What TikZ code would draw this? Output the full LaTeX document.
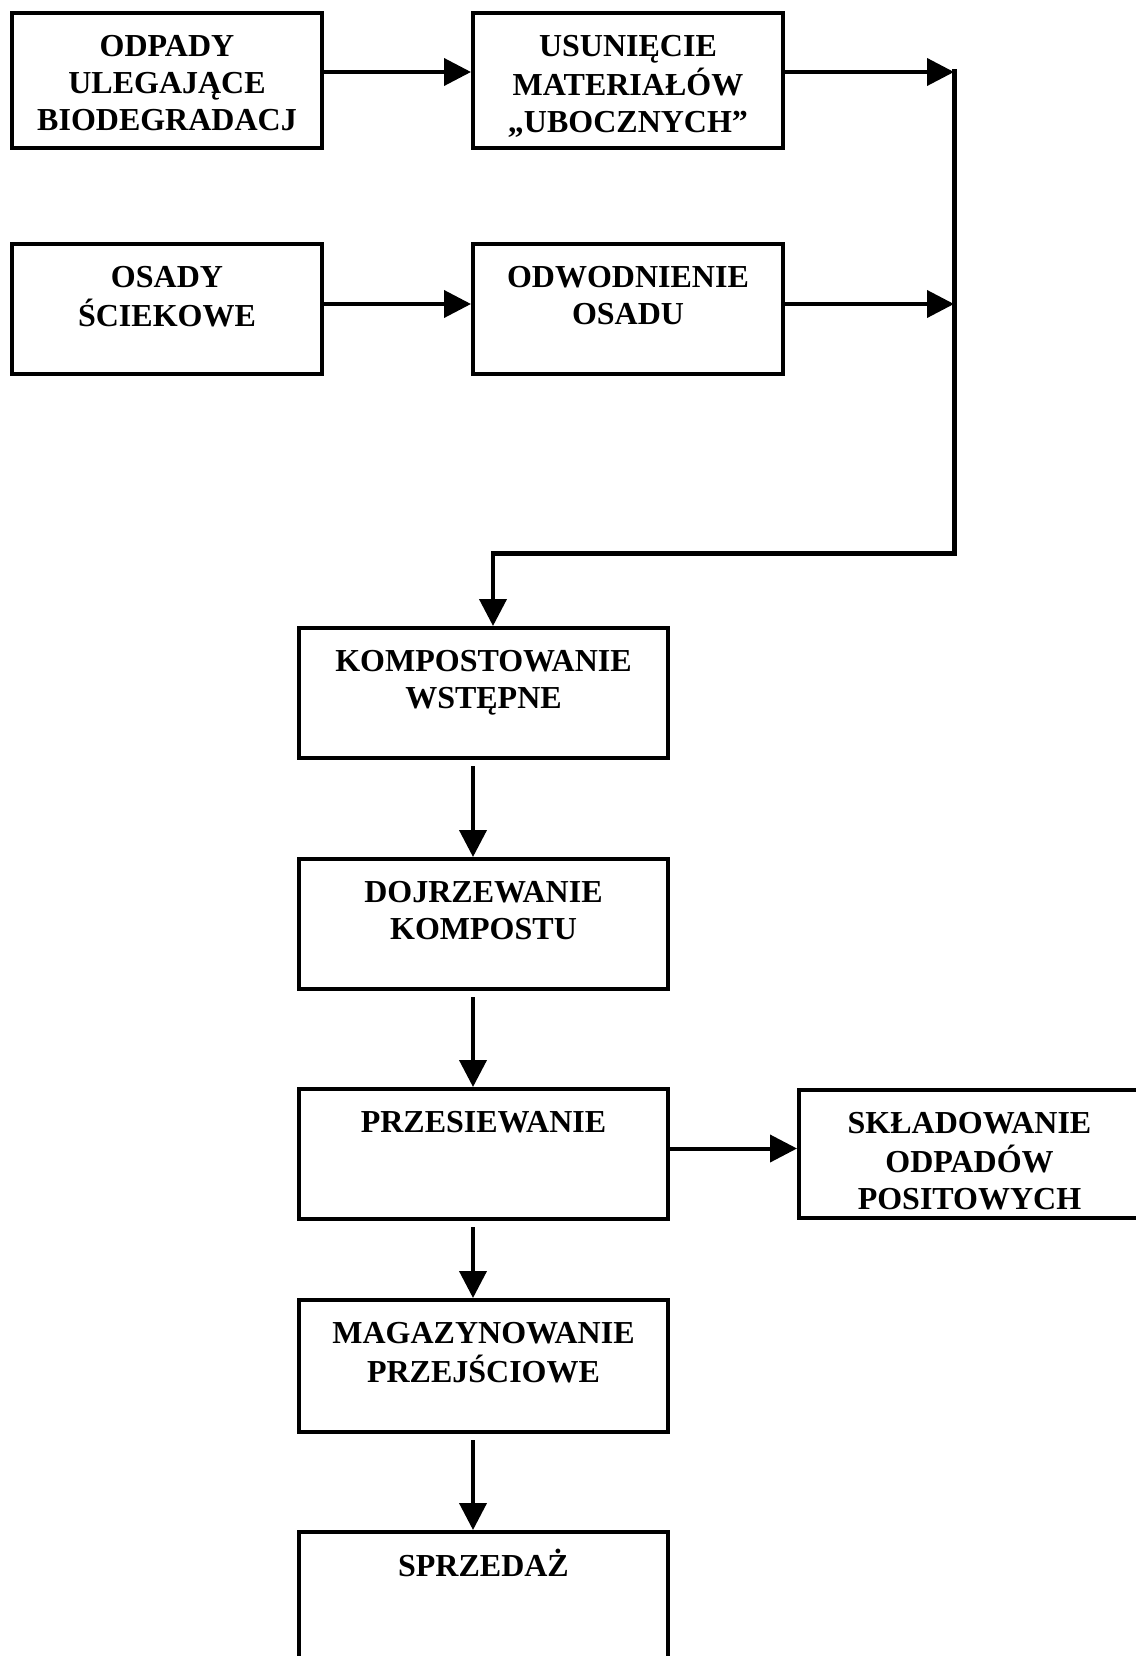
\documentclass[tikz,border=0pt]{standalone}
\usepackage{fontspec}
\setmainfont{Liberation Serif}
\usetikzlibrary{arrows.meta, calc}

\tikzset{
  stage/.style={draw, line width=4pt, inner sep=0pt, minimum width=310pt, minimum height=130pt},
  stagetext/.style={font=\fontsize{32}{37}\selectfont\bfseries, align=center, inner sep=0pt, anchor=north, yshift=-19pt},
  flow/.style={line width=4pt, -{Triangle[width=27pt, length=27pt]}},
  collector/.style={line width=5pt, line cap=rect},
}

\begin{document}
\begin{tikzpicture}[x=1pt, y=1pt]
  \fill[white] (0,0) rectangle (1135,-1656);
  \useasboundingbox (0,0) rectangle (1135,-1656);

  % Input streams
  \node[stage, minimum height=135pt, label={[stagetext]north:{\strut ODPADY\\ULEGAJĄCE\\BIODEGRADACJ}}] (odpady) at (167,-80.5) {};
  \node[stage, minimum height=135pt, label={[stagetext]north:{\strut USUNIĘCIE\\MATERIAŁÓW\\„UBOCZNYCH”}}] (usuniecie) at (628,-80.5) {};
  \node[stage, label={[stagetext]north:{\strut OSADY\\ŚCIEKOWE}}] (osady) at (167,-309) {};
  \node[stage, label={[stagetext]north:{\strut ODWODNIENIE\\OSADU}}] (odwodnienie) at (628,-309) {};

  % Main process line
  \node[stage, minimum width=369pt, label={[stagetext]north:{\strut KOMPOSTOWANIE\\WSTĘPNE}}] (kompostowanie) at (483.5,-693) {};
  \node[stage, minimum width=369pt, label={[stagetext]north:{\strut DOJRZEWANIE\\KOMPOSTU}}] (dojrzewanie) at (483.5,-924) {};
  \node[stage, minimum width=369pt, label={[stagetext]north:{\strut PRZESIEWANIE}}] (przesiewanie) at (483.5,-1154) {};
  \node[stage, minimum width=341pt, minimum height=128pt, label={[stagetext]north:{\strut SKŁADOWANIE\\ODPADÓW\\POSITOWYCH}}] (skladowanie) at (969.5,-1154) {};
  \node[stage, minimum width=369pt, minimum height=132pt, label={[stagetext]north:{\strut MAGAZYNOWANIE\\PRZEJŚCIOWE}}] (magazynowanie) at (483.5,-1366) {};
  \node[stage, minimum width=369pt, minimum height=168pt, label={[stagetext]north:{\strut SPRZEDAŻ}}] (sprzedaz) at (483.5,-1616) {};

  % Feed arrows
  \draw[flow] ([yshift=8.5pt]odpady.east) -- ([yshift=8.5pt]usuniecie.west);
  \draw[flow] ([yshift=5pt]osady.east) -- ([yshift=5pt]odwodnienie.west);

  % Collector into composting
  \coordinate (zbior) at (954,-553);
  \draw[flow] ([yshift=8.5pt]usuniecie.east) -- ([yshift=8.5pt]usuniecie.east -| zbior);
  \draw[flow] ([yshift=5pt]odwodnienie.east) -- ([yshift=5pt]odwodnienie.east -| zbior);
  \draw[collector] ([yshift=8.5pt]usuniecie.east -| zbior) -- (zbior) -- ([xshift=9.5pt]kompostowanie.north |- zbior);
  \draw[flow] ([xshift=9.5pt]kompostowanie.north |- zbior) -- ([xshift=9.5pt]kompostowanie.north);

  % Downstream arrows
  \draw[flow] ([xshift=-10.5pt, yshift=-6pt]kompostowanie.south) -- ([xshift=-10.5pt]dojrzewanie.north);
  \draw[flow] ([xshift=-10.5pt, yshift=-6pt]dojrzewanie.south) -- ([xshift=-10.5pt]przesiewanie.north);
  \draw[flow] ([xshift=-10.5pt, yshift=-6pt]przesiewanie.south) -- ([xshift=-10.5pt]magazynowanie.north);
  \draw[flow] ([xshift=-10.5pt, yshift=-6pt]magazynowanie.south) -- ([xshift=-10.5pt]sprzedaz.north);
  \draw[flow] ([yshift=5.5pt]przesiewanie.east) -- ([yshift=5.5pt]skladowanie.west);
\end{tikzpicture}
\end{document}
